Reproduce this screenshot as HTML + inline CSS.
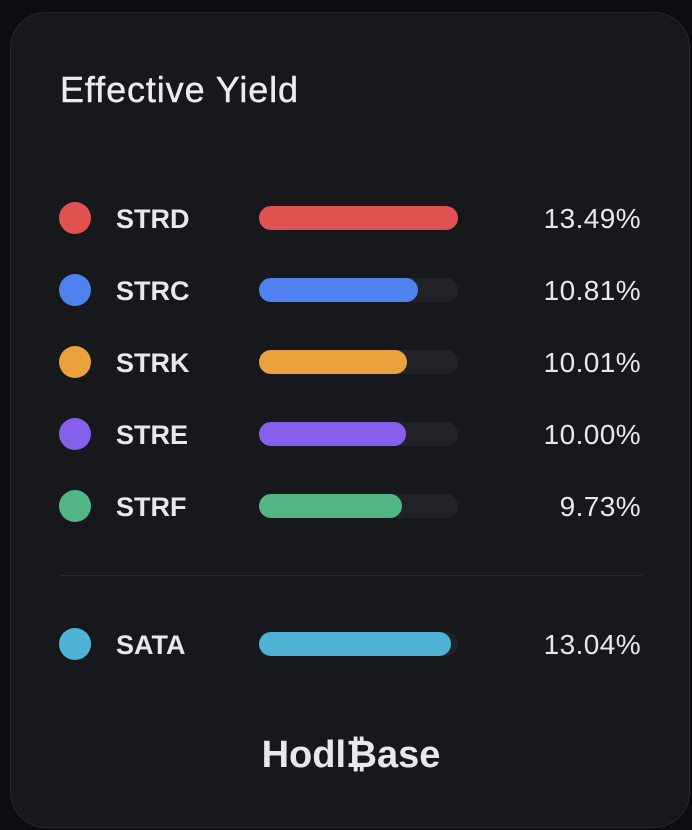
<!DOCTYPE html>
<html><head><meta charset="utf-8"><style>
html,body{margin:0;padding:0;background:#0c0d11;width:692px;height:830px;overflow:hidden;font-family:"Liberation Sans",sans-serif;}
#card{position:absolute;left:10px;top:12px;width:680px;height:816px;background:#17181c;border:1px solid #26272c;border-radius:36px;box-sizing:border-box;}
#title{position:absolute;left:60px;top:69px;font-size:36px;color:#ececee;letter-spacing:0.9px;-webkit-text-stroke:0.4px #ececee;}
.dot{position:absolute;width:32px;height:32px;border-radius:50%;}
.lab{position:absolute;left:116px;font-size:27px;font-weight:bold;color:#e8e8ea;line-height:30px;}
.track{position:absolute;left:259px;width:199px;height:24px;border-radius:12px;background:#222328;}
.fill{position:absolute;left:0;top:0;height:24px;border-radius:12px;}
.val{position:absolute;right:51px;font-size:28px;color:#e8e8ea;line-height:30px;letter-spacing:0.4px;}
#div{position:absolute;left:59px;top:575px;width:583px;height:1px;background:#2a2b30;}
#logo{position:absolute;left:0;width:702px;top:734px;text-align:center;font-size:38px;font-weight:bold;color:#e8e8ea;}
</style></head><body>
<div id="card"></div>
<div id="title">Effective Yield</div>
<div id="rows"></div>
<div id="div"></div>
<div id="logo">Hodl₿ase</div>
<script>
const names=["STRD","STRC","STRK","STRE","STRF","SATA"];
const values=[13.49,10.81,10.01,10.00,9.73,13.04];
const colors=["#e0524f","#4f82ee","#eaa23c","#8660ea","#52b584","#4fb3d5"];
const centersY=[218,290,362,434,506,644];
const maxVal=13.5, trackW=199;
const x=v=>Math.min(trackW,v/maxVal*trackW);
const root=document.getElementById('rows');
names.forEach((n,i)=>{
  const cy=centersY[i];
  const d=document.createElement('div');d.className='dot';
  
  
  d.style.left='59px';d.style.top=(cy-16)+'px';d.style.background=colors[i];root.appendChild(d);
  const l=document.createElement('div');l.className='lab';l.textContent=n;
  
  
  l.style.top=(cy-14)+'px';root.appendChild(l);
  const t=document.createElement('div');t.className='track';
  
  
  t.style.top=(cy-12)+'px';
  const f=document.createElement('div');f.className='fill';
  
  
  f.style.width=x(values[i])+'px';f.style.background=colors[i];t.appendChild(f);root.appendChild(t);
  const v=document.createElement('div');v.className='val';v.textContent=values[i].toFixed(2)+'%';
  
  
  v.style.top=(cy-14)+'px';root.appendChild(v);
});
</script>
</body></html>
